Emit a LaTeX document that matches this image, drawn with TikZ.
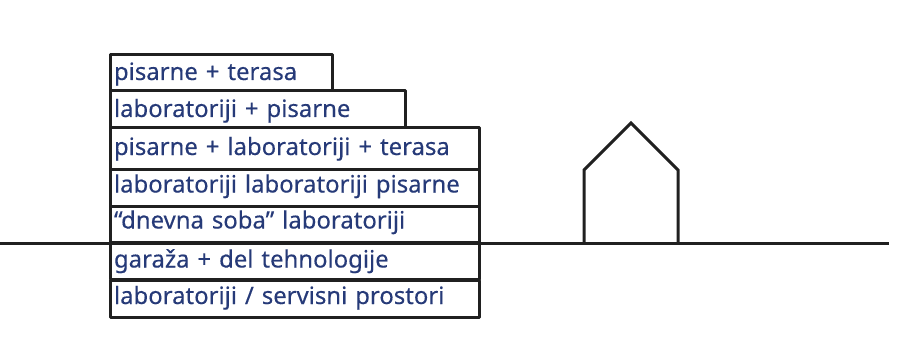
\documentclass[tikz,border=0pt]{standalone}
\usepackage{fontspec}
\setmainfont{Noto Sans}
\newfontfamily\lblfont[FakeBold=0.25]{Noto Sans}
\definecolor{lbl}{RGB}{38,58,120}
\definecolor{ink}{RGB}{32,32,32}
\tikzset{
  floorbox/.style={draw=ink,line width=3pt,rectangle,anchor=north west,outer sep=0pt,inner xsep=4pt,inner ysep=0pt,
    align=left,text=lbl,font=\lblfont\fontsize{23.9pt}{26pt}\selectfont,line join=round},
  groundline/.style={draw=ink,line width=2.6pt},
  houseline/.style={draw=ink,line width=3pt,line join=miter}
}
\begin{document}
\begin{tikzpicture}[x=1pt,y=-1pt]
\useasboundingbox (0,0) rectangle (907,350);
\coordinate (gl) at (0,243.5);
\coordinate (gr) at (889,243.5);
\coordinate (hl) at (584,243.5);
\coordinate (hr) at (678,243.5);
\coordinate (el) at (584,170);
\coordinate (er) at (678,170);
\coordinate (apex) at (631,123);
\draw[groundline] (gl) -- (gr);
\draw[houseline] (hl) -- (el) -- (apex) -- (er) -- (hr);
\node[floorbox,text width=214pt,text height=25pt,text depth=11pt] (r1) at (110,55) {pisarne + terasa};
\node[floorbox,text width=287pt,text height=26pt,text depth=11pt] (r2) at (110,91) {laboratoriji + pisarne};
\node[floorbox,text width=361pt,text height=27pt,text depth=14pt] (r3) at (110,128) {pisarne + laboratoriji + terasa};
\node[floorbox,text width=361pt,text height=23pt,text depth=14pt] (r4) at (110,169.5) {laboratoriji laboratoriji pisarne};
\node[floorbox,text width=361pt,text height=22pt,text depth=14pt] (r5) at (110,206.5) {“dnevna soba” laboratoriji};
\node[floorbox,text width=361pt,text height=24pt,text depth=12pt] (r6) at (110,243.5) {garaža + del tehnologije};
\node[floorbox,text width=361pt,text height=24pt,text depth=13pt] (r7) at (110,280) {laboratoriji / servisni prostori};
\end{tikzpicture}
\end{document}
